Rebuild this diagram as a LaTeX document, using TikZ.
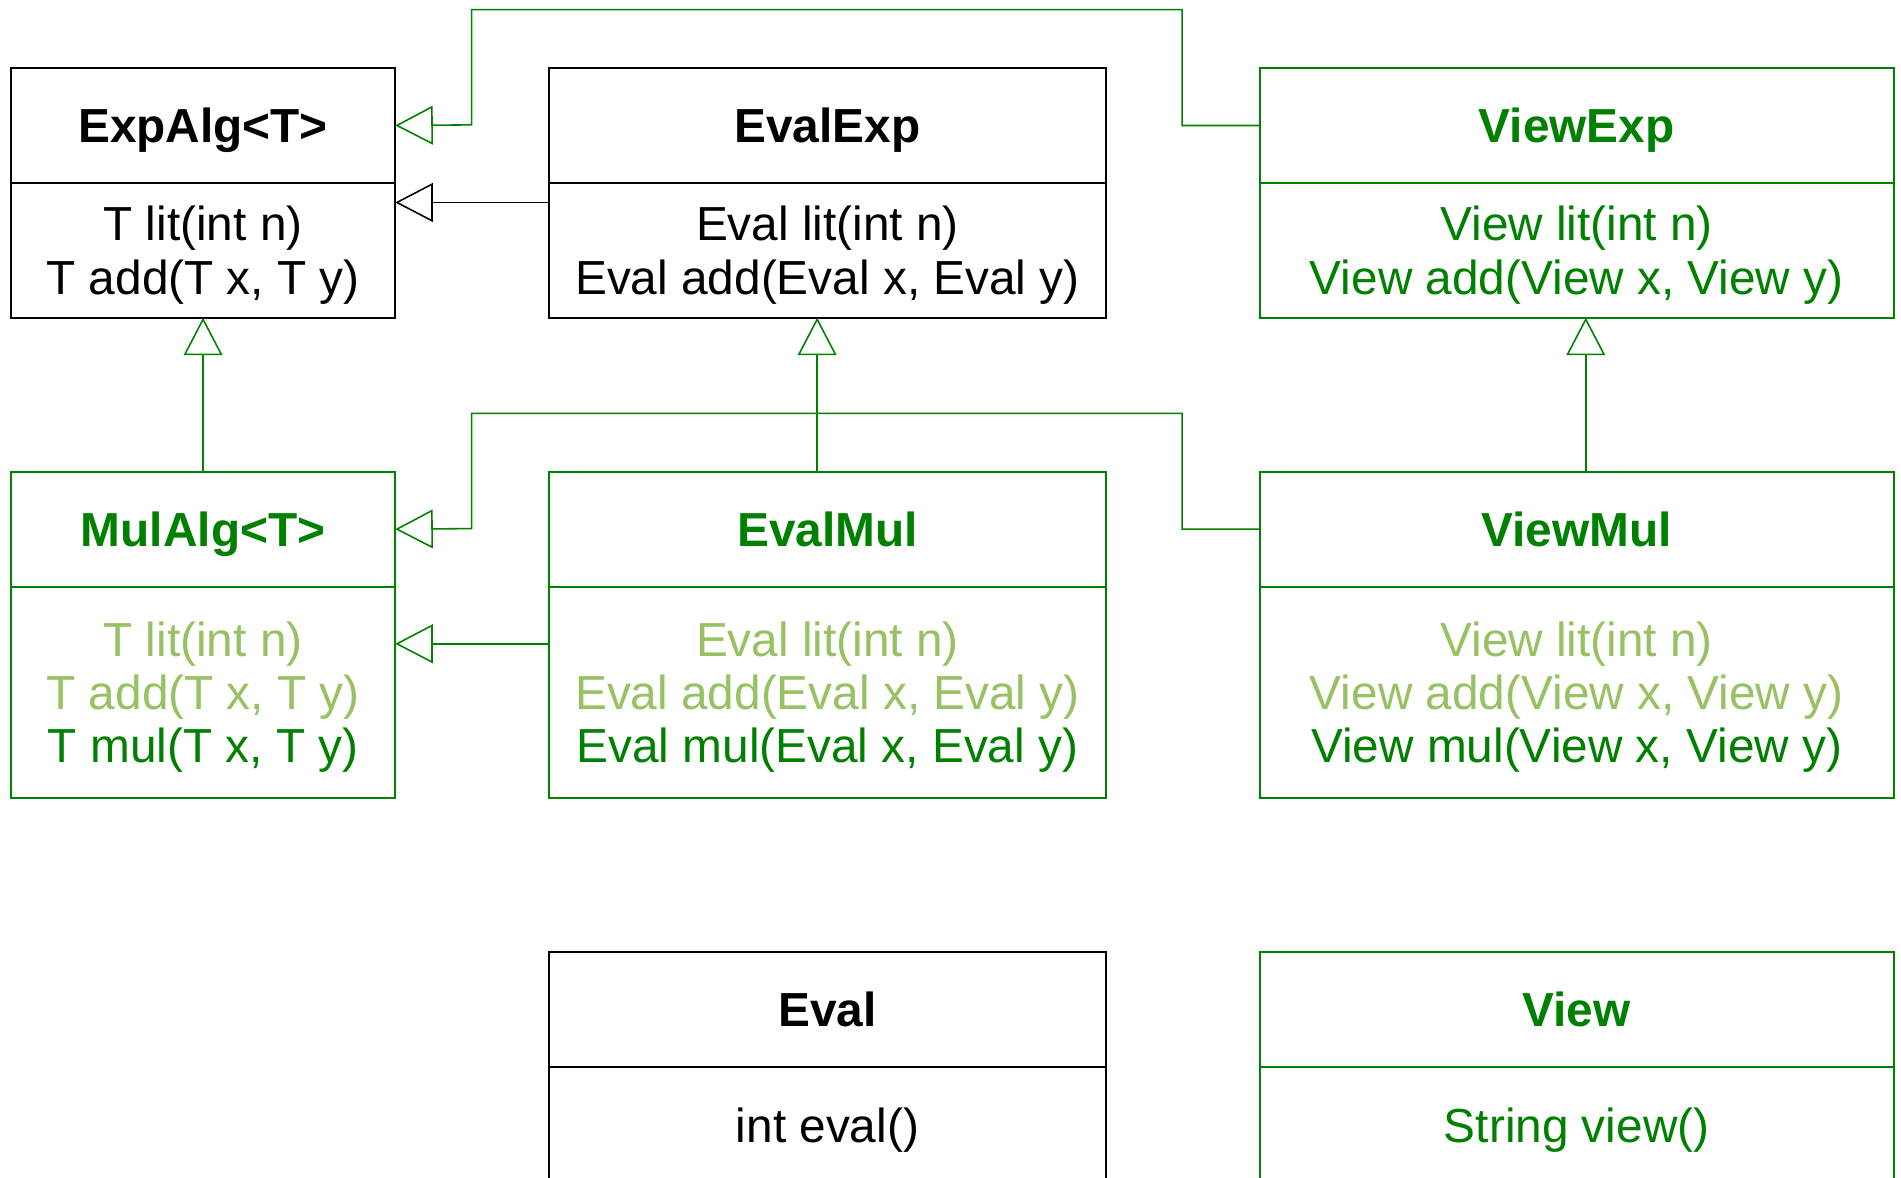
\documentclass[tikz,border=0pt]{standalone}
\usepackage{fontspec}
\setmainfont{Liberation Sans}
\usetikzlibrary{arrows.meta}
\definecolor{dg}{HTML}{008000}
\definecolor{lg}{HTML}{97C162}
\begin{document}
\begin{tikzpicture}[x=1pt,y=-1pt,
  cls/.style={draw, line width=1.5pt, inner sep=0pt, outer sep=0pt, anchor=north west, align=center, text depth=0pt, font=\fontsize{39.4}{44}\selectfont},
  ttl/.style={cls, minimum height=95pt, font=\fontsize{39.4}{44}\selectfont\bfseries},
  grn/.style={draw=dg, text=dg},
  inh/.style={line width=1.3pt, -{Triangle[open, length=31pt, width=32pt, line width=1.3pt]}},
]
\useasboundingbox (0,0) rectangle (1568,971);
\clip (0,0) rectangle (1568,971);

% row 1
\node[ttl, minimum width=317pt] (expT) at (9,56) {ExpAlg<T>};
\node[cls, minimum width=317pt, minimum height=111pt] (expB) at (9,151) {T lit(int n)\\T add(T x, T y)};
\node[ttl, minimum width=459pt] (eexpT) at (453,56) {EvalExp};
\node[cls, minimum width=459pt, minimum height=111pt] (eexpB) at (453,151) {Eval lit(int n)\\Eval add(Eval x, Eval y)};
\node[ttl, grn, minimum width=523pt] (vexpT) at (1039,56) {ViewExp};
\node[cls, grn, minimum width=523pt, minimum height=111pt] (vexpB) at (1039,151) {View lit(int n)\\View add(View x, View y)};

% row 2
\node[ttl, grn, minimum width=317pt] (maT) at (9,389) {MulAlg<T>};
\node[cls, grn, minimum width=317pt, minimum height=174pt] (maB) at (9,484) {\textcolor{lg}{T lit(int n)}\\\textcolor{lg}{T add(T x, T y)}\\T mul(T x, T y)};
\node[ttl, grn, minimum width=459pt] (emT) at (453,389) {EvalMul};
\node[cls, grn, minimum width=459pt, minimum height=174pt] (emB) at (453,484) {\textcolor{lg}{Eval lit(int n)}\\\textcolor{lg}{Eval add(Eval x, Eval y)}\\Eval mul(Eval x, Eval y)};
\node[ttl, grn, minimum width=523pt] (vmT) at (1039,389) {ViewMul};
\node[cls, grn, minimum width=523pt, minimum height=174pt] (vmB) at (1039,484) {\textcolor{lg}{View lit(int n)}\\\textcolor{lg}{View add(View x, View y)}\\View mul(View x, View y)};

% row 3
\node[ttl, minimum width=459pt] (evT) at (453,785) {Eval};
\node[cls, minimum width=459pt, minimum height=96pt] (evB) at (453,880) {int eval()};
\node[ttl, grn, minimum width=523pt] (vwT) at (1039,785) {View};
\node[cls, grn, minimum width=523pt, minimum height=96pt] (vwB) at (1039,880) {String view()};

% connectors
\draw[inh, dg] (vexpT.west) -| (975,8) -| (389,103) -- (expT.east);
\draw[inh] ([yshift=39.5pt]eexpB.west) -- ([yshift=39.5pt]expB.east);
\draw[inh, dg] (maT.north) -- (expB.south);
\draw[inh, dg] ([xshift=-8.5pt]emT.north) -- ([xshift=-8.5pt]eexpB.south);
\draw[inh, dg] ([xshift=7.5pt]vmT.north) -- ([xshift=7.5pt]vexpB.south);
\draw[inh, dg] (vmT.west) -| (975,341) -| (389,436) -- (maT.east);
\draw[inh, dg] ([yshift=40pt]emB.west) -- ([yshift=40pt]maB.east);
\end{tikzpicture}
\end{document}
